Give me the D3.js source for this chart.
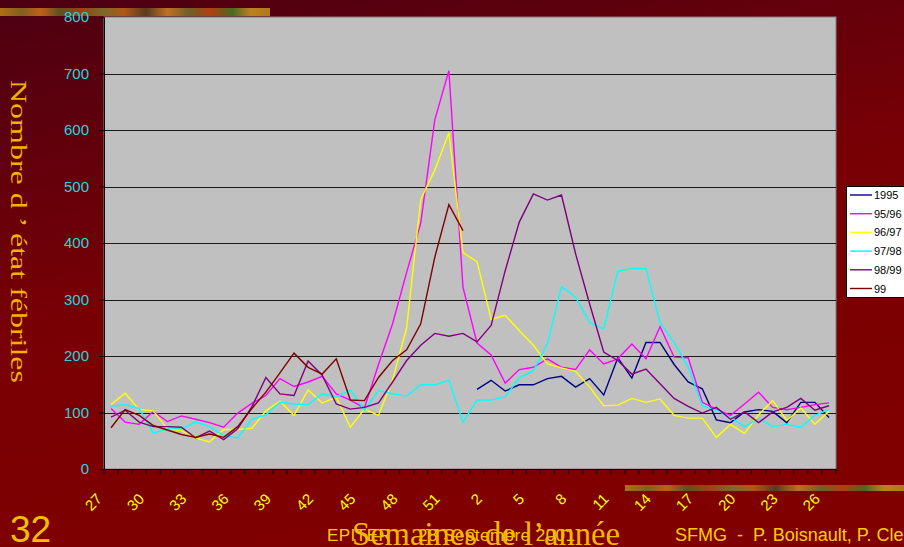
<!DOCTYPE html>
<html><head><meta charset="utf-8">
<script src="https://cdn.jsdelivr.net/npm/d3@7"></script>
<style>html,body{margin:0;padding:0;background:#800000;overflow:hidden}</style>
</head><body>
<svg id="c" width="904" height="547"></svg>
<script>
// ---- data ----
const weeks = [27,28,29,30,31,32,33,34,35,36,37,38,39,40,41,42,43,44,45,46,47,48,49,50,51,52,
               1,2,3,4,5,6,7,8,9,10,11,12,13,14,15,16,17,18,19,20,21,22,23,24,25,26];
const tickWeeks = [27,30,33,36,39,42,45,48,51,2,5,8,11,14,17,20,23,26];
const yTicks = [0,100,200,300,400,500,600,700,800];
const seriesNames = ["1995","95/96","96/97","97/98","98/99","99"];
const s1995 = [null,null,null,null,null,null,null,null,null,null,null,null,null,null,null,null,null,null,null,null,null,null,null,null,null,null,
  141,157,138,149,149,160,164,145,160,131,197,161,224,224,185,154,142,87,82,101,105,102,82,118,118,91];
const s9596 = [107,83,79,102,84,94,88,82,74,99,116,130,160,146,154,164,133,122,108,185,257,348,435,618,705,322,
  223,202,152,176,180,195,180,176,211,186,195,221,195,252,198,197,118,106,95,115,136,109,105,109,114,117];
const s9697 = [114,134,105,103,71,68,55,48,70,70,72,103,120,95,140,117,127,74,106,95,158,250,477,529,595,383,
  367,265,272,245,219,186,179,173,145,112,113,125,118,124,95,90,90,56,79,63,96,121,86,108,79,102];
const s9798 = [111,114,107,64,71,71,83,75,59,55,88,96,118,115,114,133,127,140,104,139,133,129,149,149,157,83,
  122,122,128,161,174,222,323,304,259,248,350,355,355,259,224,180,112,104,92,75,89,75,79,74,95,105];
const s9899 = [92,104,83,75,75,74,55,67,52,71,110,162,133,130,191,166,115,106,109,117,154,192,219,240,235,240,
  225,254,351,437,487,476,485,381,292,207,192,168,177,151,125,111,99,109,88,101,82,101,109,125,104,112];
const s99 = [73,105,95,77,69,61,56,62,56,75,107,136,170,205,180,168,195,122,121,162,192,211,257,375,468,422];
const seriesColors = ["#000080","#ff00ff","#ffff00","#00ffff","#800080","#800000"];

const svg = d3.select("#c");
const W = 904, H = 547;
const defs = svg.append("defs");
const bg = defs.append("linearGradient").attr("id","bg").attr("x1","0").attr("y1","0").attr("x2","0.35").attr("y2","1");
bg.append("stop").attr("offset","0").attr("stop-color","#4c0012");
bg.append("stop").attr("offset","0.55").attr("stop-color","#780004");
bg.append("stop").attr("offset","1").attr("stop-color","#800000");
svg.append("rect").attr("width",W).attr("height",H).attr("fill","url(#bg)");

// decorative strips
const strip = defs.append("linearGradient").attr("id","strip");
[["0","#b07010"],["0.08","#806020"],["0.15","#c06018"],["0.22","#605020"],["0.3","#a04010"],["0.38","#7a6a28"],
 ["0.46","#b05818"],["0.54","#5a3a20"],["0.62","#c07020"],["0.7","#70602a"],["0.78","#b04010"],["0.86","#4a6a20"],
 ["0.93","#c08020"],["1","#b07818"]].forEach(s=>strip.append("stop").attr("offset",s[0]).attr("stop-color",s[1]));
svg.append("rect").attr("x",0).attr("y",8).attr("width",270).attr("height",8).attr("fill","url(#strip)");
svg.append("rect").attr("x",625).attr("y",485).attr("width",279).attr("height",6).attr("fill","url(#strip)");

// scales
const x = d3.scaleBand().domain(weeks).range([104,836]).paddingInner(0).paddingOuter(0);
const cx = w => x(w) + x.bandwidth()/2;
const y = d3.scaleLinear().domain([0,800]).range([469,17]);

// plot area
svg.append("rect").attr("x",104).attr("y",17).attr("width",732).attr("height",452)
  .attr("fill","#c0c0c0").attr("stroke","#808080").attr("stroke-width",1);
svg.append("g").selectAll("line").data(yTicks.filter(v=>v>0 && v<800)).join("line")
  .attr("x1",104).attr("x2",836).attr("y1",d=>Math.round(y(d))+0.5).attr("y2",d=>Math.round(y(d))+0.5)
  .attr("stroke","#1a1a1a").attr("stroke-width",1.2);

// axes
const ya = svg.append("g").attr("transform","translate(104,0)")
  .call(d3.axisLeft(y).tickValues(yTicks).tickSize(5).tickPadding(10));
ya.select(".domain").attr("stroke","#000");
ya.selectAll(".tick line").attr("stroke","#000");
ya.selectAll("text").attr("fill","#22d6de").attr("font-family","Liberation Sans, Arial").attr("font-size",15);

const xa = svg.append("g").attr("transform","translate(0,469)");
xa.append("line").attr("x1",104).attr("x2",836).attr("y1",0.5).attr("y2",0.5).attr("stroke","#000");
xa.selectAll("line.t").data(d3.range(weeks.length+1)).join("line").attr("class","t")
  .attr("x1",i=>104+i*x.bandwidth()).attr("x2",i=>104+i*x.bandwidth()).attr("y1",0).attr("y2",5).attr("stroke","#000");
xa.selectAll("text").data(tickWeeks).join("text")
  .attr("transform",d=>`translate(${cx(d)-12},${27}) rotate(-45)`)
  .attr("text-anchor","end").attr("dominant-baseline","central")
  .attr("fill","#ffff00").attr("font-family","Liberation Sans, Arial").attr("font-size",15)
  .text(d=>d);

// lines
const allSeries = [s1995,s9596,s9697,s9798,s9899,s99];
const line = d3.line().defined(d=>d.v!=null).x(d=>cx(d.w)).y(d=>y(d.v));
allSeries.forEach((s,k)=>{
  const pts = s.map((v,i)=>({w:weeks[i],v:v}));
  svg.append("path").datum(pts).attr("d",line).attr("fill","none")
    .attr("stroke",seriesColors[k]).attr("stroke-width",1.4).attr("stroke-linejoin","miter");
});

// legend
const lg = svg.append("g");
lg.append("rect").attr("x",846.5).attr("y",186.5).attr("width",70).attr("height",111)
  .attr("fill","#fff").attr("stroke","#000");
seriesNames.forEach((n,k)=>{
  const yy = 195 + k*18.7;
  lg.append("line").attr("x1",850).attr("x2",872).attr("y1",yy).attr("y2",yy)
    .attr("stroke",seriesColors[k]).attr("stroke-width",1.4);
  lg.append("text").attr("x",874).attr("y",yy).attr("dominant-baseline","central")
    .attr("font-family","Liberation Sans, Arial").attr("font-size",11).attr("fill","#000").text(n);
});

// titles
svg.append("text").attr("transform","translate(11,80) rotate(90)")
  .attr("font-family","Liberation Serif, Times New Roman").attr("font-size",24).attr("fill","#f0b400")
  .attr("textLength",303).attr("lengthAdjust","spacingAndGlyphs")
  .text("Nombre d ’ état fébriles");
svg.append("text").attr("x",10).attr("y",542).attr("font-family","Liberation Sans, Arial")
  .attr("font-size",37).attr("fill","#f0c000").text("32");
svg.append("text").attr("x",327).attr("y",541).attr("font-family","Liberation Sans, Arial")
  .attr("font-size",17).attr("fill","#ffcc00").style("white-space","pre")
  .attr("textLength",248).attr("lengthAdjust","spacing")
  .text("EPITER  -  28 Septembre 2001");
svg.append("text").attr("x",675).attr("y",541).attr("font-family","Liberation Sans, Arial")
  .attr("font-size",18).attr("fill","#ffcc00").style("white-space","pre")
  .text("SFMG  -  P. Boisnault, P. Clerc");
svg.append("text").attr("x",352).attr("y",545).attr("font-family","Liberation Serif, Times New Roman")
  .attr("font-size",33).attr("fill","#f0b800").attr("textLength",268).attr("lengthAdjust","spacingAndGlyphs")
  .text("Semaines de l’année");
</script>
</body></html>
